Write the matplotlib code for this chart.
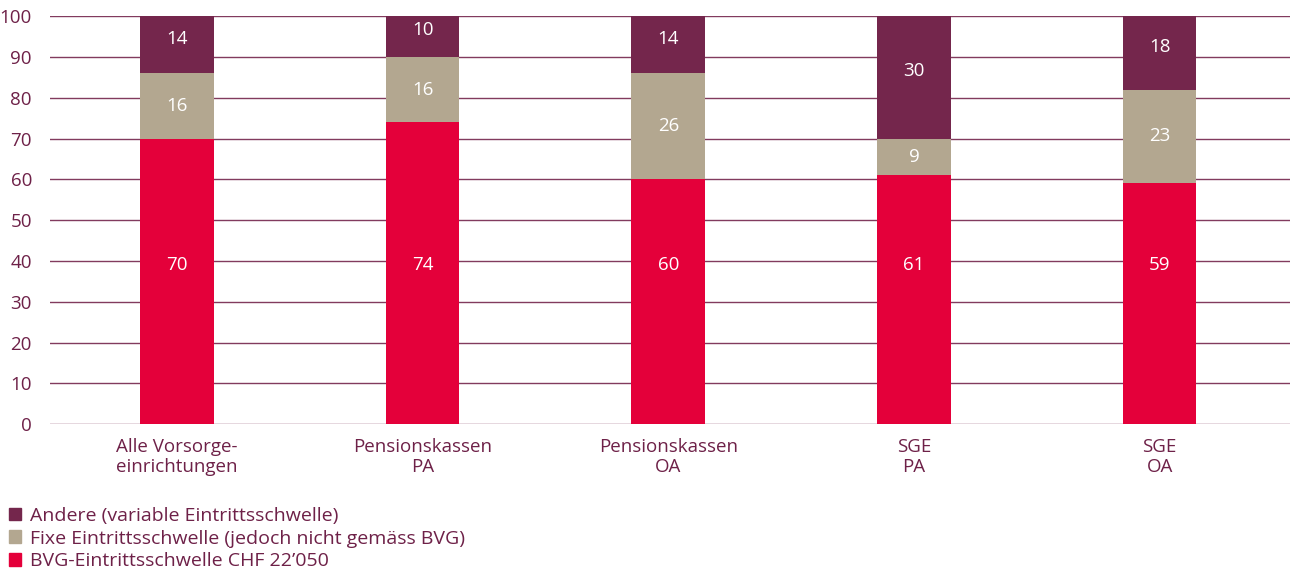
import matplotlib.pyplot as plt
import numpy as np
from matplotlib.patches import Patch

plt.rcParams['font.family'] = ['Open Sans', 'DejaVu Sans']

categories = ['Alle Vorsorge-\neinrichtungen', 'Pensionskassen\nPA', 'Pensionskassen\nOA', 'SGE\nPA', 'SGE\nOA']
bvg = [70, 74, 60, 61, 59]
fixe = [16, 16, 26, 9, 23]
andere = [14, 10, 14, 30, 18]
series_names = ['Andere (variable Eintrittsschwelle)',
                'Fixe Eintrittsschwelle (jedoch nicht gemäss BVG)',
                'BVG-Eintrittsschwelle CHF 22\u2019050']

c_red = '#e4003a'
c_beige = '#b3a790'
c_purple = '#74264c'
c_text = '#6e2148'

fig = plt.figure(figsize=(12.95, 5.74), dpi=100)
ax = fig.add_axes([0.0386, 0.261, 0.9574, 0.711])

x = np.arange(len(categories))
w = 0.30
b1 = ax.bar(x, bvg, w, color=c_red, zorder=3)
b2 = ax.bar(x, fixe, w, bottom=bvg, color=c_beige, zorder=3)
b3 = ax.bar(x, andere, w, bottom=np.add(bvg, fixe), color=c_purple, zorder=3)

# red labels sit at a common height, the others roughly in the middle
for r in b1:
    ax.text(r.get_x() + r.get_width() / 2, 39, f'{r.get_height():g}',
            ha='center', va='center', color='white', fontsize=13.5, zorder=4)
for r in b2:
    ax.text(r.get_x() + r.get_width() / 2, r.get_y() + r.get_height() / 2, f'{r.get_height():g}',
            ha='center', va='center', color='white', fontsize=13.5, zorder=4)
for r in b3:
    ax.text(r.get_x() + r.get_width() / 2, r.get_y() + r.get_height() / 2 + 1.5, f'{r.get_height():g}',
            ha='center', va='center', color='white', fontsize=13.5, zorder=4)

ax.set_ylim(0, 100)
ax.set_xlim(-0.517, 4.53)
ax.set_yticks(np.arange(0, 101, 10))
ax.yaxis.grid(True, color=c_purple, linewidth=1, alpha=0.9, zorder=0)
ax.set_axisbelow(True)
for s in ax.spines.values():
    s.set_visible(False)
ax.tick_params(axis='both', length=0, labelsize=13.5, colors=c_text)
ax.tick_params(axis='y', pad=13)
ax.tick_params(axis='x', pad=10)
ax.set_xticks(x)
ax.set_xticklabels(categories, linespacing=1.15)

handles = [Patch(color=c) for c in (c_purple, c_beige, c_red)]
leg = fig.legend(handles, series_names, loc='upper left', bbox_to_anchor=(0.006, 0.119),
                 frameon=False, fontsize=14, handlelength=0.62, handleheight=0.62,
                 handletextpad=0.45, labelspacing=0.25, borderaxespad=0, borderpad=0.05)
for t in leg.get_texts():
    t.set_color(c_text)

fig.savefig('out.png', dpi=100)
